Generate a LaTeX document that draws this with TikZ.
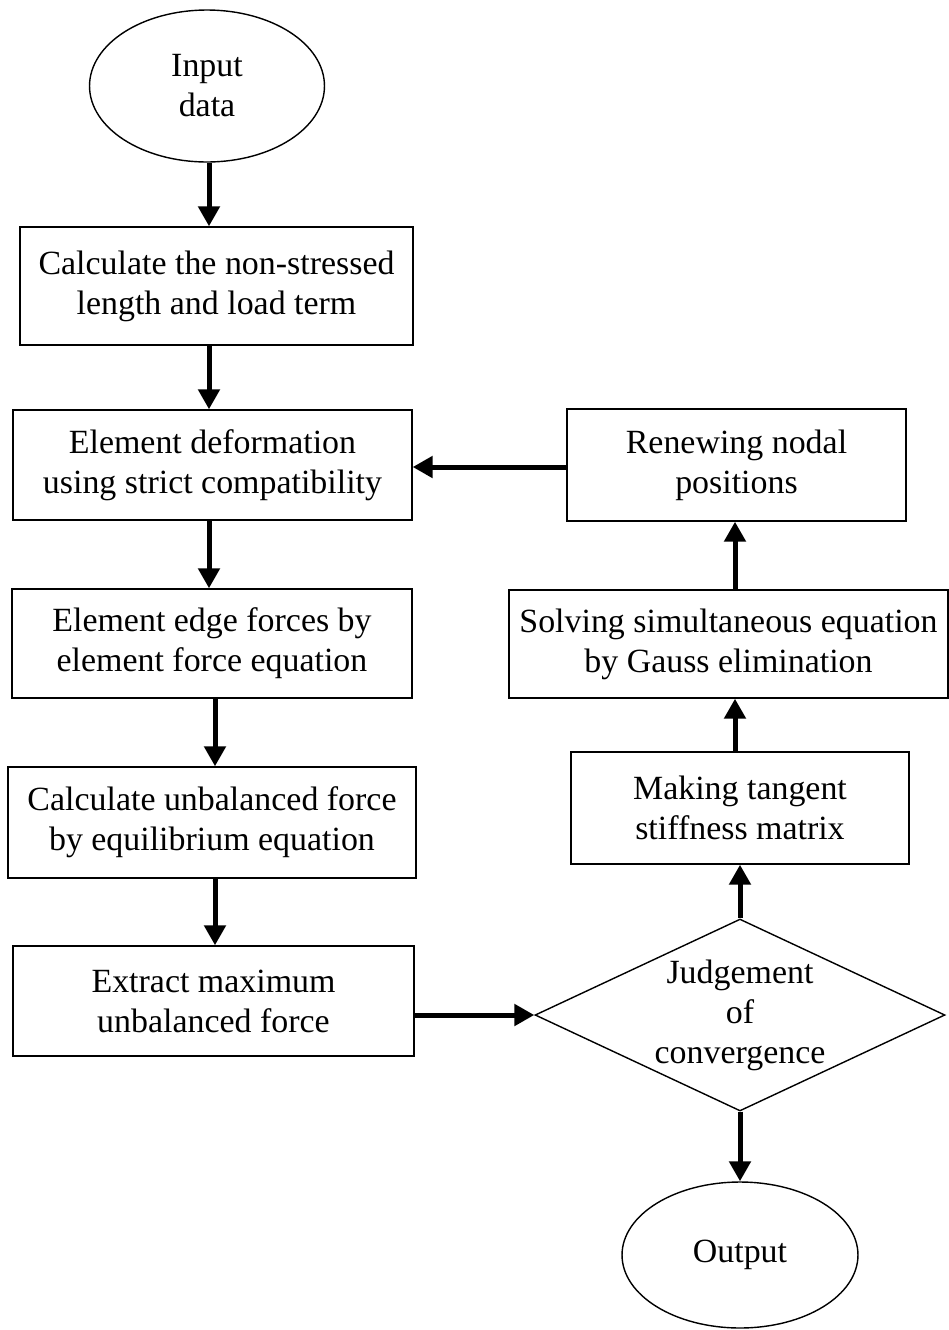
\documentclass[tikz,border=0pt]{standalone}
\usepackage{fontspec}
\setmainfont{Liberation Serif}
\usetikzlibrary{positioning, arrows.meta, shapes.geometric}

\begin{document}
\begin{tikzpicture}[x=0.02cm, y=-0.02cm,
  box/.style={draw, line width=0.8pt, align=center, inner sep=0pt},
  term/.style={draw, ellipse, line width=0.8pt, align=center, inner sep=0pt},
  decision/.style={draw, diamond, line width=0.8pt, align=center, inner sep=0pt, aspect=2.14},
  arr/.style={line width=0.1cm, -{Triangle[length=0.4cm, width=0.42cm]}},
  font=\fontsize{19.3}{22.8}\selectfont]
\useasboundingbox (0,0) rectangle (949,1330);
% left column
\node[term, minimum width=4.7cm, minimum height=3.04cm] (inp) at (207,86) {Input\\data};
\node[box, minimum width=7.86cm, minimum height=2.36cm] (calc) at (216.5,286) {Calculate the non-stressed\\length and load term};
\node[box, minimum width=7.98cm, minimum height=2.2cm] (deform) at (212.5,465) {Element deformation\\using strict compatibility};
\node[box, minimum width=8.0cm, minimum height=2.18cm] (edge) at (212,643.5) {Element edge forces by\\element force equation};
\node[box, minimum width=8.16cm, minimum height=2.22cm] (unbal) at (212,822.5) {Calculate unbalanced force\\by equilibrium equation};
\node[box, minimum width=8.02cm, minimum height=2.2cm] (extract) at (213.5,1001) {Extract maximum\\unbalanced force};
% right column
\node[decision, minimum width=8.2cm, minimum height=3.84cm] (judge) at (740,1015) {Judgement\\of\\convergence};
\node[term, minimum width=4.72cm, minimum height=2.92cm] (out) at (740,1255) {Output};
\node[box, minimum width=6.76cm, minimum height=2.24cm] (tangent) at (740,808) {Making tangent\\stiffness matrix};
\node[box, minimum width=8.78cm, minimum height=2.16cm] (solve) at (728.5,644) {Solving simultaneous equation\\by Gauss elimination};
\node[box, minimum width=6.78cm, minimum height=2.24cm] (renew) at (736.5,465) {Renewing nodal\\positions};
% arrow lines
\coordinate (colL) at (209,0);
\coordinate (colM) at (215,0);
\coordinate (colR) at (735,0);
\coordinate (rowR) at (0,467);
% arrows
\draw[arr] (colL |- inp.south) -- (colL |- calc.north);
\draw[arr] (colL |- calc.south) -- (colL |- deform.north);
\draw[arr] (colL |- deform.south) -- (colL |- edge.north);
\draw[arr] (colM |- edge.south) -- (colM |- unbal.north);
\draw[arr] (colM |- unbal.south) -- (colM |- extract.north);
\draw[arr] (extract.east |- judge.west) -- (judge.west);
\draw[arr] (judge.south) -- (out.north);
\draw[arr] (judge.north) -- (tangent.south);
\draw[arr] (colR |- tangent.north) -- (colR |- solve.south);
\draw[arr] (colR |- solve.north) -- (colR |- renew.south);
\draw[arr] (renew.west |- rowR) -- (deform.east |- rowR);
\end{tikzpicture}
\end{document}
